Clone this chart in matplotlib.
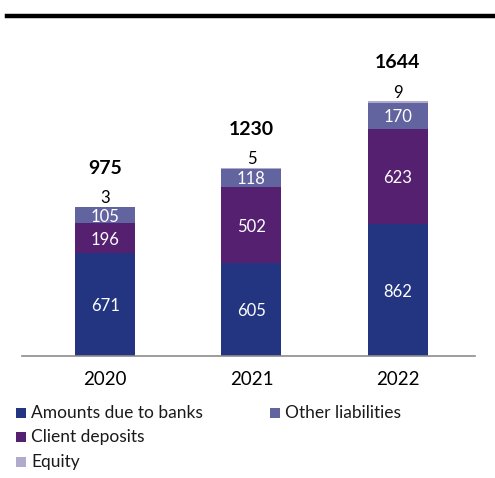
import numpy as np
import matplotlib as mpl
from matplotlib import pyplot as plt
from matplotlib.patches import Rectangle
from matplotlib.lines import Line2D

mpl.rcParams['font.family'] = ['Lato', 'DejaVu Sans']

# balance sheet composition by year
years = ['2020', '2021', '2022']
banks = [671, 605, 862]
deposits = [196, 502, 623]
other = [105, 118, 170]
equity = [3, 5, 9]
totals = [975, 1230, 1644]

series_names = ['Amounts due to banks', 'Client deposits', 'Other liabilities', 'Equity']
colors = ['#233580', '#54206f', '#6264a0', '#b0aacb']

W, H = 495, 478
f = plt.figure(figsize = (W / 100, H / 100), dpi = 100)

# axes placement in pixels (left, right, top, baseline)
axL, axR, axT, axB = 22, 475, 40, 356
ax = f.add_axes([axL / W, 1 - axB / H, (axR - axL) / W, (axB - axT) / H])

x = np.arange(len(years))
barWidth = 0.41
ymax = (axB - axT) / 0.1530

bottom = np.zeros(len(years))
stack = [banks, deposits, other, equity]
for vals, c in zip(stack, colors):
    ax.bar(x, vals, bottom = bottom, width = barWidth, color = c, edgecolor = 'none', zorder = 2)
    bottom += np.array(vals)

# segment labels inside the bars
for vals, b0 in zip(stack[:3], [np.zeros(3), np.array(banks), np.array(banks) + np.array(deposits)]):
    for i, v in enumerate(vals):
        ax.text(x[i], b0[i] + v / 2, str(v), ha = 'center', va = 'center_baseline',
                color = 'white', fontsize = 12)

pxUnit = ymax / (axB - axT)
for i in range(len(years)):
    ax.text(x[i], bottom[i] + 10 * pxUnit, str(equity[i]), ha = 'center', va = 'center_baseline',
            color = 'black', fontsize = 12)
    ax.text(x[i], bottom[i] + 40 * pxUnit, str(totals[i]), ha = 'center', va = 'center_baseline',
            color = 'black', fontsize = 14, fontweight = 'bold')

ax.set_xlim(-0.57, 2.53)
ax.set_ylim(0, ymax)
ax.set_xticks(x)
ax.set_xticklabels(years, fontsize = 13.5)
ax.tick_params(axis = 'x', length = 0, pad = 11)
ax.set_yticks([])
for s in ['top', 'right', 'left']:
    ax.spines[s].set_visible(False)
ax.spines['bottom'].set_color('#8c8c8c')
ax.spines['bottom'].set_linewidth(1.2)
ax.spines['bottom'].set_zorder(3)

# thick rule across the top
f.add_artist(Line2D([7 / W, 1.0], [1 - 16 / H, 1 - 16 / H], color = 'black', lw = 3.2))

# legend drawn by hand: three rows on the left, one on the right
legendItems = [(16, 413, 0), (16, 437, 1), (16, 462, 3), (270, 413, 2)]
sq = 10
for px, py, k in legendItems:
    f.add_artist(Rectangle((px / W, 1 - (py + sq / 2) / H), sq / W, sq / H,
                           facecolor = colors[k], edgecolor = 'none', transform = f.transFigure))
    f.text((px + 15) / W, 1 - py / H, series_names[k], ha = 'left', va = 'center',
           fontsize = 12.5, color = '#1a1a1a')

f.savefig('out.png', dpi = 100)
